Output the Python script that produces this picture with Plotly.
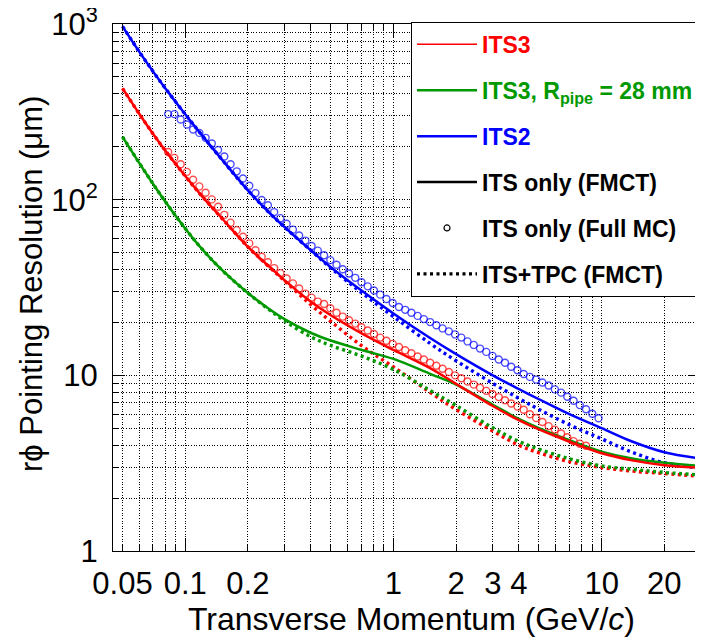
import math
import plotly.graph_objects as go

# ---------------- data ----------------
# FMCT curves (fast Monte Carlo tool), pT in GeV/c, resolution in um
XF = [0.05, 0.06, 0.07, 0.08, 0.1, 0.12, 0.15, 0.2, 0.25, 0.3, 0.4, 0.5, 0.7,
      1.0, 1.5, 2, 3, 4, 5, 7, 10, 14, 20, 30]

ITS3_ITS = [430, 309.7, 237.6, 191.3, 136.3, 105.2, 78.4, 53.9, 42.2, 34.8, 26.3, 22.0, 17.4,
            13.95, 11.0, 8.95, 6.69, 5.56, 4.92, 4.19, 3.6, 3.28, 3.08, 2.97]
ITS3R_ITS = [228, 162.7, 123.3, 98.0, 68.6, 52.6, 39.8, 29.4, 24.1, 20.9, 17.48, 15.78, 13.98,
             12.4, 10.2, 8.85, 6.8, 5.65, 5.0, 4.27, 3.68, 3.36, 3.18, 3.05]
ITS2_ITS = [970, 698.6, 537.6, 432.9, 306.4, 233.9, 169.3, 113.1, 85.6, 69.8, 51.6, 41.3, 30.5,
            22.5, 16.3, 13.2, 10.0, 8.36, 7.31, 6.01, 5.0, 4.2, 3.65, 3.36]

ITS3_TPC = [430, 309.7, 237.6, 191.3, 136.3, 105.2, 78.4, 53.9, 42.0, 34.5, 25.3, 20.3, 14.8,
            11.16, 8.0, 6.39, 4.82, 4.0, 3.62, 3.23, 2.99, 2.85, 2.76, 2.66]
ITS3R_TPC = [228, 162.7, 123.3, 98.0, 68.6, 52.6, 39.8, 29.4, 23.9, 20.4, 16.6, 14.8, 12.9,
             10.8, 8.2, 6.73, 5.03, 4.21, 3.8, 3.35, 3.05, 2.92, 2.8, 2.71]
ITS2_TPC = [970, 698.6, 537.6, 432.9, 306.4, 233.9, 169.3, 113.1, 85.6, 69.8, 51.6, 40.9, 29.7,
            21.6, 15.2, 12.1, 9.0, 7.4, 6.4, 5.23, 4.35, 3.65, 3.18, 2.96]

# Full MC points (bin centres)
XMC = [0.0828, 0.0887, 0.0951, 0.1019, 0.1091, 0.1169, 0.1253, 0.1342, 0.1438, 0.1541,
       0.1651, 0.1768, 0.1895, 0.2030, 0.2175, 0.2330, 0.2496, 0.2675, 0.2866, 0.3070,
       0.3290, 0.3524, 0.3776, 0.4046, 0.4334, 0.4644, 0.4976, 0.5331, 0.5711, 0.6119,
       0.6556, 0.7024, 0.7526, 0.8063, 0.8639, 0.9255, 0.9920, 1.063, 1.139, 1.220,
       1.307, 1.400, 1.500, 1.608, 1.722, 1.845, 1.977, 2.118, 2.269, 2.431,
       2.605, 2.791, 2.990, 3.204, 3.433, 3.678, 3.940, 4.222, 4.523, 4.846,
       5.192, 5.563, 5.960, 6.385, 6.841, 7.330, 7.853, 8.414, 9.015, 9.662]

ITS2_MC = [307, 307, 286, 268, 251, 240, 225, 209, 192, 176,
           159, 145, 132, 120, 109, 99.5, 93, 85, 78.5, 73,
           67.5, 62.5, 58.5, 54.5, 51.3, 48.3, 45.3, 42.6, 40.2, 38,
           35.9, 33.9, 32.1, 30.4, 28.8, 27.2, 25.8, 24.5, 23.6, 22.7,
           21.8, 20.9, 20.1, 19.3, 18.5, 17.8, 17.1, 16.4, 15.6, 14.9,
           14.2, 13.6, 12.9, 12.3, 11.8, 11.2, 10.7, 10.18, 9.8, 9.46,
           9.1, 8.75, 8.32, 7.97, 7.56, 7.17, 6.77, 6.41, 6.04, 5.70]

ITS3_MC = [187, 173, 159, 144, 130, 119, 109.5, 100.4, 91.1, 82,
           74, 67.1, 61.5, 56.4, 51.5, 47.3, 44, 40.8, 38.2, 35.6,
           33.4, 31.2, 29.2, 27.7, 26.3, 25.5, 24.1, 22.7, 21.6, 20.6,
           19.7, 18.8, 18.0, 17.2, 16.4, 15.74, 15.1, 14.5, 13.9, 13.36,
           12.8, 12.3, 11.8, 11.35, 10.9, 10.45, 10.0, 9.62, 9.23, 8.86,
           8.5, 8.16, 7.83, 7.52, 7.21, 6.92, 6.64, 6.37, 6.0, 5.72,
           5.43, 5.14, 4.91, 4.67, 4.44, 4.22, 4.08, 3.97]

X_LABEL_VALS = [0.05, 0.1, 0.2, 1, 2, 3, 4, 10, 20]
X_LABEL_TEXT = ["0.05", "0.1", "0.2", "1", "2", "3", "4", "10", "20"]
X_MINOR_VALS = [0.06, 0.07, 0.08, 0.09, 0.3, 0.4, 0.5, 0.6, 0.7, 0.8, 0.9,
                5, 6, 7, 8, 9, 30]
X_DECADES = [0.1, 1, 10]
Y_LABEL_VALS = [1, 10, 100, 1000]
Y_LABEL_TEXT = ["1", "10", "10<sup>2</sup>", "10<sup>3</sup>"]
Y_MINOR_VALS = [2, 3, 4, 5, 6, 7, 8, 9, 20, 30, 40, 50, 60, 70, 80, 90,
                200, 300, 400, 500, 600, 700, 800, 900]

RED = "#ff0000"
GREEN = "#009900"
BLUE = "#0000ff"
FONT = "Liberation Sans, Arial, Helvetica, sans-serif"

fig = go.Figure()


def curve(y, color, dotted):
    return go.Scatter(
        x=XF, y=y, mode="lines", showlegend=False, hoverinfo="skip",
        line=dict(color=color, width=3.4 if dotted else 2.5,
                  dash="3px,3.5px" if dotted else "solid",
                  shape="spline", smoothing=1.0))


# dotted ITS+TPC
for y, c in [(ITS2_TPC, BLUE), (ITS3_TPC, RED), (ITS3R_TPC, GREEN)]:
    fig.add_trace(curve(y, c, True))
# solid ITS only
for y, c in [(ITS2_ITS, BLUE), (ITS3R_ITS, GREEN), (ITS3_ITS, RED)]:
    fig.add_trace(curve(y, c, False))
# full MC circles
for y, c in [(ITS2_MC, "rgba(0,0,255,0.7)"), (ITS3_MC, "rgba(255,0,0,0.7)")]:
    fig.add_trace(go.Scatter(
        x=XMC[:len(y)], y=y, mode="markers", showlegend=False, hoverinfo="skip",
        marker=dict(symbol="circle-open", size=7, color=c, line=dict(width=1.4, color=c))))

# legend entries
legend_items = [
    ("<span style='color:#ff0000'>ITS3</span>", dict(mode="lines", line=dict(color=RED, width=1.5))),
    ("<span style='color:#009900'>ITS3, R<sub>pipe</sub> = 28 mm</span>",
     dict(mode="lines", line=dict(color=GREEN, width=2.5))),
    ("<span style='color:#0000ff'>ITS2</span>", dict(mode="lines", line=dict(color=BLUE, width=2.5))),
    ("ITS only (FMCT)", dict(mode="lines", line=dict(color="black", width=2.5))),
    ("ITS only (Full MC)", dict(mode="markers",
                                marker=dict(symbol="circle-open", size=6, color="black",
                                            line=dict(width=1.2, color="black")))),
    ("ITS+TPC (FMCT)", dict(mode="lines", line=dict(color="black", width=3.4, dash="3px,3.5px"))),
]
for i, (name, kw) in enumerate(legend_items):
    fig.add_trace(go.Scatter(x=[None], y=[None], name="<b>" + name + "</b>",
                             legendgroup="g%d" % i, hoverinfo="skip", **kw))

# invisible trace on the overlay axis that carries the long decade ticks
fig.add_trace(go.Scatter(x=[None], y=[None], xaxis="x2", showlegend=False,
                         hoverinfo="skip", mode="lines"))

xr = [math.log10(0.045), math.log10(30)]
grid = dict(showgrid=True, gridcolor="black", gridwidth=1, griddash="1px,1.6px")

# the page body has an 8px default margin, so the figure is 8px smaller
# and its margins are reduced to keep the plot frame where the reference has it
fig.update_layout(
    template="none",
    width=695, height=632,
    margin=dict(l=105, r=2, t=16, b=89, autoexpand=False),
    paper_bgcolor="white", plot_bgcolor="white",
    font=dict(family=FONT, color="black"),
    xaxis=dict(type="log", range=xr, tickmode="array", tickvals=X_LABEL_VALS,
               ticktext=X_LABEL_TEXT, ticks="inside", ticklen=7, tickwidth=1,
               tickcolor="black", showline=True, linecolor="black", linewidth=1,
               mirror="ticks", zeroline=False, tickfont=dict(family=FONT, size=31),
               ticklabelstandoff=5, automargin=False, ticklabeloverflow="allow",
               minor=dict(tickmode="array", tickvals=X_MINOR_VALS, ticks="inside",
                          ticklen=7, tickcolor="black", **grid),
               **grid),
    xaxis2=dict(type="log", range=xr, overlaying="x", side="bottom", tickmode="array",
                tickvals=X_DECADES, ticks="inside", ticklen=13, tickcolor="black",
                showticklabels=False, showgrid=False, zeroline=False, mirror="ticks",
                showline=False, automargin=False),
    yaxis=dict(type="log", range=[0, 3.0002], tickmode="array", tickvals=Y_LABEL_VALS,
               ticktext=Y_LABEL_TEXT, ticks="inside", ticklen=12, tickwidth=1,
               tickcolor="black", showline=True, linecolor="black", linewidth=1,
               mirror="ticks", zeroline=False, tickfont=dict(family=FONT, size=31),
               ticklabelstandoff=8, automargin=False, ticklabeloverflow="allow",
               minor=dict(tickmode="array", tickvals=Y_MINOR_VALS, ticks="inside",
                          ticklen=6, tickcolor="black", **grid),
               **grid),
    legend=dict(x=0.5068, xanchor="left", y=1.004, yanchor="top",
                bgcolor="white", bordercolor="black", borderwidth=1,
                font=dict(family=FONT, size=23, color="black"),
                itemwidth=60, tracegroupgap=13, traceorder="grouped"),
    annotations=[
        dict(text="Transverse Momentum (GeV/<i>c</i>)", xref="paper", yref="paper",
             x=0.5085, y=-0.129, xanchor="center", yanchor="middle", showarrow=False,
             font=dict(family=FONT, size=32, color="black")),
        dict(text="r\u03d5 Pointing Resolution (\u03bcm)", xref="paper", yref="paper",
             x=-0.1395, y=0.5066, xanchor="center", yanchor="middle", showarrow=False,
             textangle=-90, font=dict(family=FONT, size=31, color="black")),
    ],
)

fig.write_html("out.html")
